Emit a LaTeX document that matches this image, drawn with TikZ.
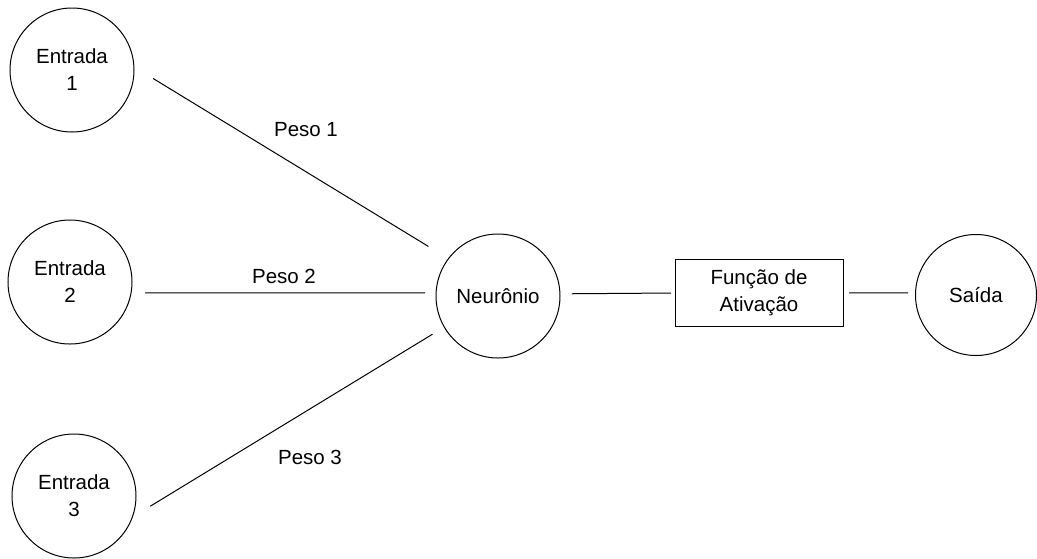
\documentclass[tikz,border=0pt]{standalone}
\usepackage{fontspec}
\setmainfont{Liberation Sans}
\begin{document}
\begin{tikzpicture}[x=1pt,y=-1pt,
  every node/.style={font=\fontsize{20.5}{27}\selectfont, text=black, inner sep=0pt, outer sep=0pt},
  unit/.style={circle, draw, line width=1pt, minimum size=124pt, align=center},
  actbox/.style={rectangle, draw, line width=1pt, minimum width=168pt, minimum height=67pt, align=center},
  link/.style={draw, line width=1pt}]
  \useasboundingbox[fill=white] (0,0) rectangle (1037,558);

  % input, neuron, activation and output units
  \node[unit] (e1) at (72,70) {Entrada\\1};
  \node[unit] (e2) at (70,282) {Entrada\\2};
  \node[unit] (e3) at (74,496) {Entrada\\3};
  \node[unit] (n) at (498,296) {Neurônio};
  \node[actbox] (f) at (759,293) {Função de\\Ativação};
  \node[unit, minimum size=121pt] (s) at (976,295) {Saída};

  % weighted connections, with a gap at each end
  \draw[link, shorten <=22.4pt, shorten >=23.5pt] (e1.3.4) -- (n.143.7);
  \draw[link, shorten <=14pt, shorten >=11pt] (e2.-10.2) -- (n.177.2);
  \draw[link, shorten <=21.1pt, shorten >=13.8pt] (e3.-20.8) -- (n.210.9);
  \draw[link, shorten <=12pt, shorten >=4pt] (n.2.8) -- (f.west);
  \draw[link, shorten <=6pt, shorten >=7.5pt] (f.east) -- (s.178.1);

  % weight labels
  \node[anchor=base] (p1) at (306,136) {Peso 1};
  \node[anchor=base] (p2) at (284,283) {Peso 2};
  \node[anchor=base] (p3) at (310,464) {Peso 3};
\end{tikzpicture}
\end{document}
